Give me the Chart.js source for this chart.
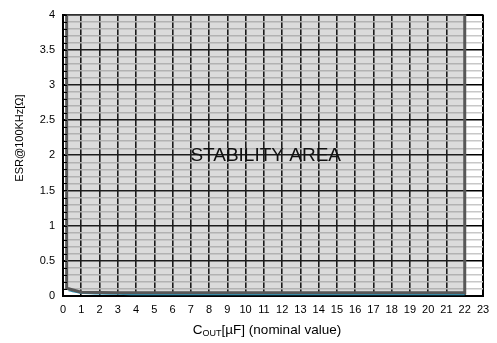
<!DOCTYPE html>
<html>
<head>
<meta charset="utf-8">
<script src="https://cdn.jsdelivr.net/npm/chart.js@4.4.1/dist/chart.umd.min.js"></script>
<style>
  html, body { margin: 0; padding: 0; background: #fff; }
  #wrap { width: 497px; height: 343px; position: relative; }
</style>
</head>
<body>
<div id="wrap"><canvas id="c" width="497" height="343"></canvas></div>
<script>
// Output capacitance (µF) and ESR (Ω) outlining the stable operating region
const areaCout = [0.2, 0.2, 1, 2, 3, 4, 6, 10, 15, 22, 22, 0.2];
const areaEsr  = [4, 0.11, 0.055, 0.05, 0.047, 0.045, 0.045, 0.045, 0.045, 0.045, 4, 4];

// Lower ESR limit curve
const limitCout = [0.3, 1, 2, 3, 4, 6, 10, 15, 22];
const limitEsr  = [0.075, 0.04, 0.03, 0.025, 0.02, 0.02, 0.02, 0.02, 0.02];

// Axis ranges and labels
const xTicks = [0,1,2,3,4,5,6,7,8,9,10,11,12,13,14,15,16,17,18,19,20,21,22,23];
const yMin = 0, yMax = 4, yMinorStep = 0.1, yMajorStep = 0.5;
const xTitleMain = 'C', xTitleSub = 'OUT', xTitleRest = '[µF] (nominal value)';
const yTitle = 'ESR@100KHz[Ω]';
const areaLabel = 'STABILITY AREA';
const areaLabelPos = { x: 11.1, y: 2.0 };

const FONT = '"Liberation Sans", Arial, Helvetica, sans-serif';

function isMajor(v) {
  const r = v / yMajorStep;
  return Math.abs(r - Math.round(r)) < 1e-6;
}

const annotate = {
  id: 'annotate',
  afterDraw(chart) {
    const { ctx, chartArea, scales } = chart;
    const x = scales.x, y = scales.y;
    ctx.save();
    // short inward tick marks on the left axis
    ctx.strokeStyle = '#000';
    ctx.lineWidth = 1;
    for (let i = 0; i <= Math.round((yMax - yMin) / yMinorStep); i++) {
      const py = Math.round(y.getPixelForValue(yMin + i * yMinorStep)) + 0.5;
      ctx.beginPath();
      ctx.moveTo(chartArea.left, py);
      ctx.lineTo(chartArea.left + 4, py);
      ctx.stroke();
    }
    // region label
    ctx.fillStyle = '#111';
    ctx.font = '19px ' + FONT;
    ctx.textAlign = 'center';
    ctx.textBaseline = 'middle';
    ctx.fillText(areaLabel, x.getPixelForValue(areaLabelPos.x), y.getPixelForValue(areaLabelPos.y));

    // x axis title with subscript
    const mainFont = '13.5px ' + FONT, subFont = '9px ' + FONT;
    ctx.font = mainFont;
    const w1 = ctx.measureText(xTitleMain).width;
    const w3 = ctx.measureText(xTitleRest).width;
    ctx.font = subFont;
    const w2 = ctx.measureText(xTitleSub).width;
    const total = w1 + w2 + w3;
    const cx = 267, base = 334;
    let sx = cx - total / 2;
    ctx.textAlign = 'left';
    ctx.textBaseline = 'alphabetic';
    ctx.fillStyle = '#000';
    ctx.font = mainFont;
    ctx.fillText(xTitleMain, sx, base);
    ctx.font = subFont;
    ctx.fillText(xTitleSub, sx + w1, base + 2);
    ctx.font = mainFont;
    ctx.fillText(xTitleRest, sx + w1 + w2, base);

    // y axis title
    ctx.translate(20, 138);
    ctx.rotate(-Math.PI / 2);
    ctx.font = '11px ' + FONT;
    ctx.textAlign = 'center';
    ctx.textBaseline = 'middle';
    ctx.fillText(yTitle, 0, 0);
    ctx.restore();
  }
};

new Chart(document.getElementById('c'), {
  type: 'scatter',
  data: {
    datasets: [
      {
        data: areaCout.map((v, i) => ({ x: v, y: areaEsr[i] })),
        showLine: true,
        fill: 'shape',
        backgroundColor: 'rgba(110,110,110,0.25)',
        borderColor: '#585858',
        borderWidth: 3,
        borderJoinStyle: 'miter',
        pointRadius: 0,
        tension: 0,
        order: 1
      },
      {
        data: limitCout.map((v, i) => ({ x: v, y: limitEsr[i] })),
        showLine: true,
        fill: false,
        borderColor: '#2f9cc2',
        borderWidth: 1.2,
        pointRadius: 0,
        tension: 0.3,
        order: 2
      }
    ]
  },
  options: {
    responsive: false,
    animation: false,
    devicePixelRatio: 1,
    layout: { padding: { top: 13, right: 14, left: 0, bottom: 0 } },
    plugins: { legend: { display: false }, tooltip: { enabled: false } },
    scales: {
      x: {
        type: 'linear',
        min: xTicks[0],
        max: xTicks[xTicks.length - 1],
        afterBuildTicks(scale) { scale.ticks = xTicks.map(v => ({ value: v })); },
        afterFit(scale) { scale.height = 47; },
        ticks: {
          autoSkip: false,
          maxRotation: 0,
          padding: 7,
          color: '#000',
          font: { family: FONT, size: 11 },
          callback: v => String(v)
        },
        grid: {
          drawTicks: false,
          color: '#000',
          lineWidth: ctx => (ctx.index === 0 || ctx.index === xTicks.length - 1) ? 2 : 1.6
        },
        border: { display: true, color: '#000', width: 2 }
      },
      y: {
        type: 'linear',
        min: yMin,
        max: yMax,
        afterFit(scale) { scale.width = 63; },
        ticks: {
          stepSize: yMinorStep,
          autoSkip: false,
          padding: 8,
          color: '#000',
          font: { family: FONT, size: 11 },
          callback: v => isMajor(v) ? String(Number(v.toFixed(1))) : ''
        },
        grid: {
          drawTicks: false,
          color: ctx => isMajor(ctx.tick.value) ? '#000' : '#c8c8c8',
          lineWidth: ctx => isMajor(ctx.tick.value) ? (ctx.tick.value === yMax ? 2 : 1.6) : 1.5
        },
        border: { display: true, color: '#000', width: 2 }
      }
    }
  },
  plugins: [annotate]
});
</script>
</body>
</html>
